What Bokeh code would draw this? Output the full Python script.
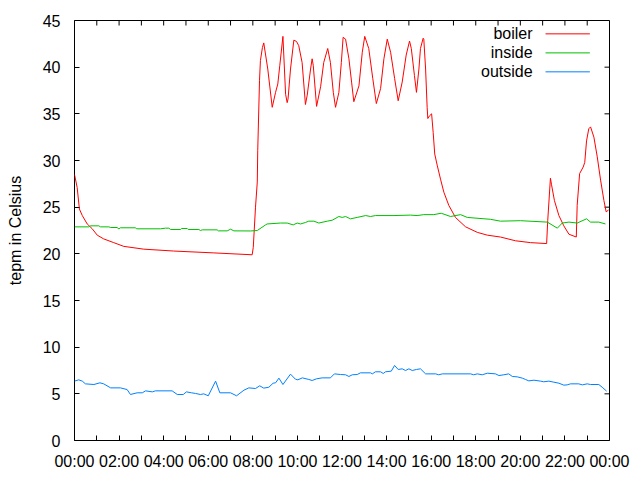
from bokeh.plotting import figure
from bokeh.models import Range1d, FixedTicker, Label
from bokeh.embed import file_html
from bokeh.resources import INLINE

# ---------------- data (hours of day, temperature in Celsius) ----------------
boiler_h = [0.0, 0.12, 0.22, 0.35, 0.57, 0.79, 1.02, 1.31, 1.76, 2.21, 3.11, 4.45, 6.25, 7.97,
            8.02, 8.12, 8.20, 8.22, 8.30, 8.34, 8.43, 8.49, 8.67, 8.87, 9.02, 9.12, 9.21, 9.35,
            9.47, 9.54, 9.58, 9.69, 9.84, 9.96, 10.06, 10.21, 10.36, 10.44, 10.59, 10.66, 10.71,
            10.86, 11.04, 11.18, 11.36, 11.48, 11.61, 11.71, 11.86, 11.97, 12.05, 12.16, 12.31,
            12.43, 12.53, 12.76, 12.91, 13.02, 13.20, 13.38, 13.54, 13.73, 13.88, 14.03, 14.18,
            14.36, 14.52, 14.70, 14.88, 15.03, 15.11, 15.25, 15.34, 15.45, 15.52, 15.64, 15.67,
            15.75, 15.82, 15.85, 15.93, 16.02, 16.09, 16.16, 16.27, 16.42, 16.57, 16.79, 17.09,
            17.54, 18.07, 18.52, 19.11, 19.78, 20.46, 21.18, 21.23, 21.35, 21.40, 21.53, 21.73,
            21.95, 22.18, 22.51, 22.55, 22.66, 22.82, 22.89, 22.97, 23.07, 23.15, 23.30, 23.45,
            23.60, 23.75, 23.85, 23.96]
boiler_t = [28.5, 27.1, 24.8, 24.1, 23.2, 22.7, 22.0, 21.6, 21.2, 20.8, 20.5, 20.3, 20.1, 19.9,
            20.7, 25.0, 27.7, 31.1, 38.6, 40.7, 42.1, 42.6, 39.8, 35.7, 37.3, 38.2, 40.2, 43.3,
            37.1, 36.2, 36.6, 39.8, 42.9, 42.75, 42.3, 40.5, 36.0, 37.0, 39.8, 40.9, 40.2,
            35.8, 37.9, 40.5, 42.0, 40.5, 37.3, 35.7, 37.3, 40.5, 43.2, 43.0, 40.9,
            38.4, 36.3, 38.0, 41.6, 43.3, 42.0, 38.8, 36.1, 37.7, 40.9, 43.0, 41.6,
            38.8, 36.4, 38.4, 41.3, 42.8, 42.0, 39.1, 37.3, 39.8, 42.0, 43.1, 43.0,
            39.8, 35.7, 34.5, 34.8, 35.0, 33.0, 30.7, 29.5, 28.0, 26.6, 25.2, 23.9,
            22.9, 22.3, 22.0, 21.8, 21.4, 21.2, 21.1, 23.6, 28.1, 27.4, 25.7, 24.1,
            23.0, 22.1, 21.8, 25.2, 28.6, 29.3, 29.8, 32.1, 33.4, 33.6, 32.5, 30.4,
            27.9, 25.7, 24.5, 24.7]

inside_h = [0.0, 0.64, 0.72, 1.09, 1.17, 1.54, 1.62, 1.91, 1.99, 2.06, 2.74, 2.78, 3.86, 4.08,
            4.23, 4.31, 4.76, 4.80, 5.06, 5.10, 5.58, 5.65, 5.73, 6.40, 6.45, 6.85, 7.00, 7.15,
            7.90, 8.20, 8.57, 8.64, 9.24, 9.54, 9.81, 9.99, 10.14, 10.36, 10.51, 10.74, 10.96,
            11.34, 11.56, 11.86, 12.01, 12.16, 12.38, 12.68, 13.06, 13.28, 13.50, 14.33, 15.07,
            15.37, 15.67, 16.12, 16.45, 16.87, 17.32, 17.62, 18.66, 19.11, 20.01, 21.21, 21.66,
            21.88, 22.18, 22.55, 22.97, 23.15, 23.52, 23.82]
inside_t = [22.89, 22.89, 23.0, 23.0, 22.89, 22.89, 22.82, 22.82, 22.68, 22.79, 22.79, 22.68, 22.68, 22.75,
            22.75, 22.61, 22.61, 22.71, 22.71, 22.61, 22.61, 22.5, 22.57, 22.57, 22.46, 22.46, 22.64, 22.46,
            22.45, 22.5, 23.1, 23.2, 23.3, 23.3, 23.1, 23.3, 23.2, 23.36, 23.5, 23.5, 23.3,
            23.5, 23.6, 24.0, 23.9, 24.0, 23.75, 23.9, 24.1, 24.0, 24.1, 24.1, 24.15,
            24.1, 24.2, 24.2, 24.35, 24.0, 24.2, 23.9, 23.7, 23.5, 23.55, 23.4, 22.75,
            23.3, 23.4, 23.3, 23.75, 23.4, 23.4, 23.2]

outside_h = [0.0, 0.19, 0.35, 0.49, 0.87, 1.14, 1.31, 1.62, 2.06, 2.36, 2.51, 2.81, 3.04, 3.19,
             3.49, 3.63, 4.38, 4.61, 4.88, 5.02, 5.25, 5.43, 5.65, 5.80, 6.00, 6.33, 6.52, 7.00,
             7.27, 7.60, 7.82, 8.12, 8.31, 8.49, 8.72, 8.91, 9.02, 9.17, 9.35, 9.69, 9.91, 10.02,
             10.22, 10.51, 10.66, 10.86, 11.11, 11.48, 11.66, 11.93, 12.16, 12.31, 12.46, 12.68,
             12.83, 13.28, 13.36, 13.50, 13.73, 13.85, 13.95, 14.21, 14.36, 14.52, 14.70, 14.85,
             15.00, 15.15, 15.34, 15.52, 15.75, 16.20, 16.34, 16.50, 17.77, 17.91, 18.07, 18.29,
             18.52, 18.89, 19.04, 19.26, 19.48, 19.64, 19.86, 20.09, 20.23, 20.38, 20.61, 20.91,
             21.05, 21.28, 21.50, 21.73, 21.95, 22.10, 22.25, 22.62, 22.78, 23.00, 23.15, 23.52,
             23.67, 23.87]
outside_t = [6.36, 6.5, 6.36, 6.07, 6.0, 6.18, 6.07, 5.64, 5.64, 5.46, 4.93, 5.11, 5.11, 5.32,
             5.21, 5.32, 5.32, 4.93, 4.93, 5.21, 5.11, 5.04, 4.93, 5.0, 4.79, 6.36, 5.11, 5.11,
             4.79, 5.39, 5.64, 5.57, 5.86, 5.61, 5.71, 6.14, 6.18, 6.68, 6.0, 7.11, 6.57, 6.5,
             6.71, 6.54, 6.43, 6.61, 6.71, 6.71, 7.14, 7.07, 7.04, 6.86, 7.04, 7.07,
             7.25, 7.25, 7.14, 7.36, 7.36, 7.18, 7.36, 7.43, 8.04, 7.61, 7.68, 7.5,
             7.68, 7.5, 7.61, 7.68, 7.14, 7.14, 7.04, 7.14, 7.14, 7.04, 7.14, 7.04,
             7.21, 7.14, 6.96, 7.04, 7.14, 6.86, 6.82, 6.68, 6.54, 6.39, 6.46, 6.36,
             6.29, 6.36, 6.25, 6.14, 5.93, 5.96, 6.07, 6.07, 5.96, 6.07, 6.0, 6.0,
             5.71, 5.29]

x_major = [0, 2, 4, 6, 8, 10, 12, 14, 16, 18, 20, 22, 24]
x_minor = [1, 3, 5, 7, 9, 11, 13, 15, 17, 19, 21, 23]
x_labels = ["00:00", "02:00", "04:00", "06:00", "08:00", "10:00", "12:00",
            "14:00", "16:00", "18:00", "20:00", "22:00", "00:00"]
y_ticks = [0, 5, 10, 15, 20, 25, 30, 35, 40, 45]

series_names = ["boiler", "inside", "outside"]
series_colors = ["#ff0000", "#00c000", "#0080ff"]

FONT = "Liberation Sans"
FS = "16px"
X0, X1, Y0, Y1 = 0, 24, 0, 45

p = figure(width=640, height=480, output_backend="svg", toolbar_location=None,
           x_range=Range1d(X0, X1), y_range=Range1d(Y0, Y1),
           min_border_left=74, min_border_right=31, min_border_top=20, min_border_bottom=40)
p.background_fill_color = "white"
p.border_fill_color = "white"
p.outline_line_color = "black"
p.outline_line_width = 1
p.grid.visible = False

TICK = 5  # inward tick length, px


def style_axis(ax, standoff):
    ax.axis_line_color = None
    ax.major_tick_in = TICK
    ax.major_tick_out = 0
    ax.minor_tick_in = TICK
    ax.minor_tick_out = 0
    ax.major_tick_line_color = "black"
    ax.minor_tick_line_color = "black"
    ax.major_label_text_font = FONT
    ax.major_label_text_color = "black"
    ax.major_label_text_font_size = FS
    ax.major_label_standoff = standoff


xa = p.xaxis[0]
xa.ticker = FixedTicker(ticks=x_major, minor_ticks=x_minor)
xa.major_label_overrides = {t: lab for t, lab in zip(x_major, x_labels)}
style_axis(xa, 12)

ya = p.yaxis[0]
ya.ticker = FixedTicker(ticks=y_ticks)
style_axis(ya, 14)
ya.minor_tick_line_color = None
ya.axis_label = "tepm in Celsius"
ya.axis_label_text_font = FONT
ya.axis_label_text_font_size = FS
ya.axis_label_text_font_style = "normal"
ya.axis_label_text_color = "black"
ya.axis_label_standoff = 16

# mirrored inward ticks on the top and right edges (gnuplot style)
frame_w = 640 - 74 - 31
frame_h = 480 - 20 - 40
dx = TICK * (X1 - X0) / frame_w
dy = TICK * (Y1 - Y0) / frame_h
top_ticks = x_major + x_minor
p.segment(x0=top_ticks, y0=[Y1] * len(top_ticks), x1=top_ticks, y1=[Y1 - dy] * len(top_ticks),
          line_color="black", line_width=1)
p.segment(x0=[X1] * len(y_ticks), y0=y_ticks, x1=[X1 - dx] * len(y_ticks), y1=y_ticks,
          line_color="black", line_width=1)

p.line(boiler_h, boiler_t, line_color=series_colors[0], line_width=1)
p.line(inside_h, inside_t, line_color=series_colors[1], line_width=1)
p.line(outside_h, outside_t, line_color=series_colors[2], line_width=1)

# legend (gnuplot style: text, then sample line)
leg_text_x = 20.55
leg_x0, leg_x1 = 21.13, 23.12
leg_rows = [43.57, 41.53, 39.5]
for name, col, yy in zip(series_names, series_colors, leg_rows):
    p.add_layout(Label(x=leg_text_x, y=yy, text=name, text_align="right",
                       text_baseline="middle", text_font=FONT, text_font_size=FS,
                       text_color="black"))
    p.segment(x0=[leg_x0], y0=[yy], x1=[leg_x1], y1=[yy], line_color=col, line_width=1)

open("out.html", "w").write(file_html(p, INLINE))
